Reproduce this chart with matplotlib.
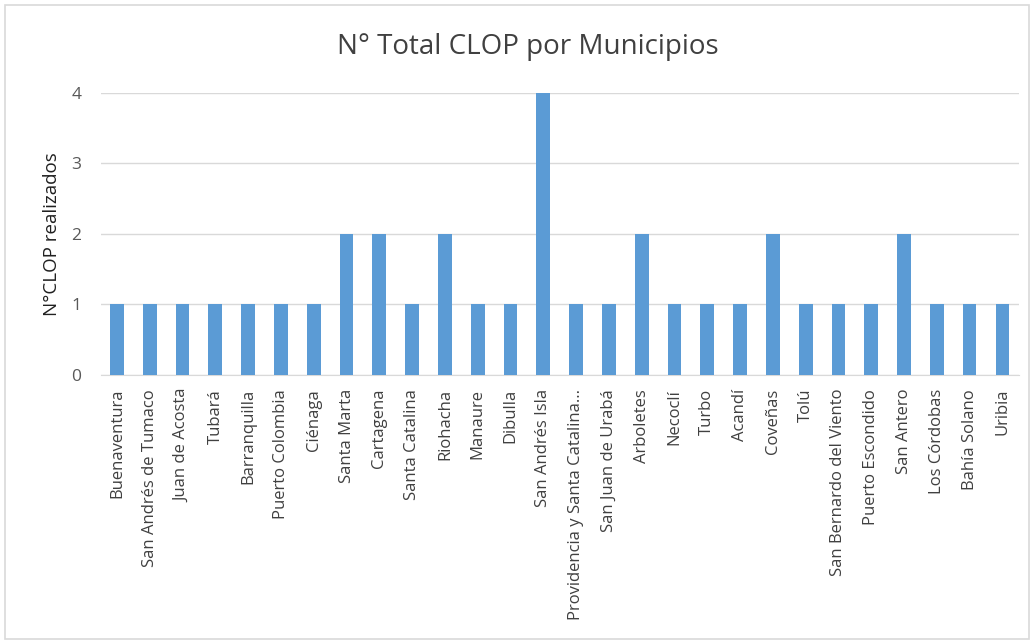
import numpy as np
import matplotlib.pyplot as plt
from matplotlib.patches import Rectangle

municipios = ['Buenaventura', 'San Andrés de Tumaco', 'Juan de Acosta', 'Tubará',
              'Barranquilla', 'Puerto Colombia', 'Ciénaga', 'Santa Marta', 'Cartagena',
              'Santa Catalina', 'Riohacha', 'Manaure', 'Dibulla', 'San Andrés Isla',
              'Providencia y Santa Catalina...', 'San Juan de Urabá', 'Arboletes',
              'Necoclí', 'Turbo', 'Acandí', 'Coveñas', 'Tolú', 'San Bernardo del Viento',
              'Puerto Escondido', 'San Antero', 'Los Córdobas', 'Bahía Solano', 'Uribia']
clop = [1, 1, 1, 1, 1, 1, 1, 2, 2, 1, 2, 1, 1, 4, 1, 1, 2, 1, 1, 1, 2, 1, 1, 1, 2, 1, 1, 1]
yticks = [0, 1, 2, 3, 4]

plt.rcParams['font.family'] = ['Open Sans', 'DejaVu Sans']
fig = plt.figure(figsize=(10.34, 6.43), dpi=100)
# marco gris del grafico
fig.patches.append(Rectangle((0.005, 0.006), 0.99, 0.987, transform=fig.transFigure,
                             fill=False, edgecolor='#D9D9D9', linewidth=1.2))
ax = fig.add_axes([0.0973, 0.4168, 0.888, 0.4386])

x = np.arange(len(municipios))
ax.bar(x, clop, width=0.42, color='#5B9BD5', zorder=3)
ax.set_xlim(-0.5, len(municipios) - 0.5)
ax.set_ylim(0, 4)
ax.set_yticks(yticks)
ax.set_xticks(x)
ax.set_xticklabels(municipios, rotation=90, fontsize=12, color='#404040')
ax.tick_params(axis='y', labelsize=12.5, colors='#595959', length=0, pad=14)
ax.tick_params(axis='x', length=0, pad=10)
ax.grid(axis='y', color='#D9D9D9', linewidth=1, zorder=0)
for s in ['top', 'right', 'left']:
    ax.spines[s].set_visible(False)
ax.spines['bottom'].set_color('#D9D9D9')
ax.set_ylabel('N°CLOP realizados', fontsize=13.5, color='#202020', labelpad=7)
fig.text(0.51, 0.927, 'N° Total CLOP por Municipios', fontsize=20, color='#404040',
         ha='center', va='center')

fig.savefig('out.png', dpi=100)
